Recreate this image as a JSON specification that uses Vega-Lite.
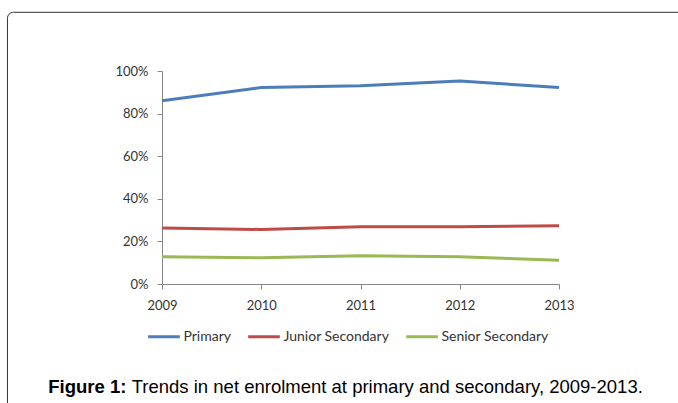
{
  "$schema": "https://vega.github.io/schema/vega-lite/v6.json",
  "width": 397,
  "height": 213,
  "autosize": {"type": "none"},
  "padding": {"left": 162, "top": 71, "right": 119, "bottom": 119},
  "background": "white",
  "config": {"view": {"stroke": null}, "font": "Lato"},
  "layer": [
    {
      "data": {
        "values": [
          {"series": "Primary", "year": 2009, "value": 0.86},
          {"series": "Primary", "year": 2010, "value": 0.922},
          {"series": "Primary", "year": 2011, "value": 0.931},
          {"series": "Primary", "year": 2012, "value": 0.953},
          {"series": "Primary", "year": 2013, "value": 0.922},
          {"series": "Junior Secondary", "year": 2009, "value": 0.263},
          {"series": "Junior Secondary", "year": 2010, "value": 0.256},
          {"series": "Junior Secondary", "year": 2011, "value": 0.269},
          {"series": "Junior Secondary", "year": 2012, "value": 0.269},
          {"series": "Junior Secondary", "year": 2013, "value": 0.274},
          {"series": "Senior Secondary", "year": 2009, "value": 0.128},
          {"series": "Senior Secondary", "year": 2010, "value": 0.123},
          {"series": "Senior Secondary", "year": 2011, "value": 0.133},
          {"series": "Senior Secondary", "year": 2012, "value": 0.128},
          {"series": "Senior Secondary", "year": 2013, "value": 0.111}
        ]
      },
      "mark": {"type": "line", "strokeWidth": 3},
      "encoding": {
        "x": {
          "field": "year", "type": "quantitative", "title": null,
          "scale": {"domain": [2009, 2013], "nice": false, "zero": false},
          "axis": {"values": [2009, 2010, 2011, 2012, 2013], "format": "d", "title": null, "grid": false, "domainColor": "#868686", "tickColor": "#868686", "tickSize": 5, "labelPadding": 10, "labelFontSize": 13, "labelColor": "#333333", "labelFont": "Lato", "labelFlush": false}
        },
        "y": {
          "field": "value", "type": "quantitative", "title": null,
          "scale": {"domain": [0, 1], "nice": false},
          "axis": {"values": [0, 0.2, 0.4, 0.6, 0.8, 1], "format": ".0%", "title": null, "grid": false, "domainColor": "#868686", "tickColor": "#868686", "tickSize": 5, "labelPadding": 9, "labelFontSize": 13, "labelColor": "#333333", "labelFont": "Lato"}
        },
        "color": {
          "field": "series", "type": "nominal",
          "scale": {"domain": ["Primary", "Junior Secondary", "Senior Secondary"], "range": ["#4A7EBB", "#BE4B48", "#98B954"]},
          "legend": {"orient": "none", "legendX": -15.5, "legendY": 248, "direction": "horizontal", "title": null, "symbolType": "stroke", "symbolSize": 1000, "symbolStrokeWidth": 3, "labelFontSize": 14, "labelFont": "Lato", "labelOffset": 2, "columnPadding": 10, "labelColor": "#333333", "padding": 0}
        }
      }
    },
    {
      "data": {"values": [{}]},
      "mark": {"type": "rect", "fill": null, "stroke": "#333333", "strokeWidth": 1, "cornerRadius": 6, "clip": false},
      "encoding": {
        "x": {"datum": 2007.443, "type": "quantitative", "title": null, "scale": {"domain": [2009, 2013], "nice": false, "zero": false},
          "axis": {"values": [2009, 2010, 2011, 2012, 2013], "format": "d", "title": null, "grid": false, "domainColor": "#868686", "tickColor": "#868686", "tickSize": 5, "labelPadding": 10, "labelFontSize": 13, "labelColor": "#333333", "labelFont": "Lato", "labelFlush": false}},
        "x2": {"datum": 2016},
        "y": {"datum": 1.2756, "type": "quantitative", "title": null, "scale": {"domain": [0, 1], "nice": false},
          "axis": {"values": [0, 0.2, 0.4, 0.6, 0.8, 1], "format": ".0%", "title": null, "grid": false, "domainColor": "#868686", "tickColor": "#868686", "tickSize": 5, "labelPadding": 9, "labelFontSize": 13, "labelColor": "#333333", "labelFont": "Lato"}},
        "y2": {"datum": -1}
      }
    },
    {
      "data": {"values": [{"caption": "Figure 1:"}]},
      "mark": {"type": "text", "font": "Liberation Sans", "fontSize": 18.5, "fontWeight": "bold", "align": "left", "baseline": "alphabetic", "color": "#000000"},
      "encoding": {
        "x": {"datum": 2007.854, "type": "quantitative", "title": null, "scale": {"domain": [2009, 2013], "nice": false, "zero": false},
          "axis": {"values": [2009, 2010, 2011, 2012, 2013], "format": "d", "title": null, "grid": false, "domainColor": "#868686", "tickColor": "#868686", "tickSize": 5, "labelPadding": 10, "labelFontSize": 13, "labelColor": "#333333", "labelFont": "Lato", "labelFlush": false}},
        "y": {"datum": -0.5094, "type": "quantitative", "title": null, "scale": {"domain": [0, 1], "nice": false},
          "axis": {"values": [0, 0.2, 0.4, 0.6, 0.8, 1], "format": ".0%", "title": null, "grid": false, "domainColor": "#868686", "tickColor": "#868686", "tickSize": 5, "labelPadding": 9, "labelFontSize": 13, "labelColor": "#333333", "labelFont": "Lato"}},
        "text": {"field": "caption"}
      }
    },
    {
      "data": {"values": [{"caption": "Trends in net enrolment at primary and secondary, 2009-2013."}]},
      "mark": {"type": "text", "font": "Liberation Sans", "fontSize": 18.5, "fontWeight": "normal", "align": "left", "baseline": "alphabetic", "color": "#000000"},
      "encoding": {
        "x": {"datum": 2008.695, "type": "quantitative", "title": null, "scale": {"domain": [2009, 2013], "nice": false, "zero": false},
          "axis": {"values": [2009, 2010, 2011, 2012, 2013], "format": "d", "title": null, "grid": false, "domainColor": "#868686", "tickColor": "#868686", "tickSize": 5, "labelPadding": 10, "labelFontSize": 13, "labelColor": "#333333", "labelFont": "Lato", "labelFlush": false}},
        "y": {"datum": -0.5094, "type": "quantitative", "title": null, "scale": {"domain": [0, 1], "nice": false},
          "axis": {"values": [0, 0.2, 0.4, 0.6, 0.8, 1], "format": ".0%", "title": null, "grid": false, "domainColor": "#868686", "tickColor": "#868686", "tickSize": 5, "labelPadding": 9, "labelFontSize": 13, "labelColor": "#333333", "labelFont": "Lato"}},
        "text": {"field": "caption"}
      }
    }
  ]
}
